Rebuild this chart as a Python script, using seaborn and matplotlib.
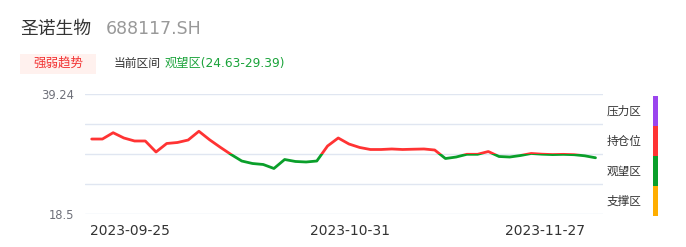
import matplotlib
matplotlib.use("Agg")
import matplotlib.pyplot as plt
from matplotlib.patches import Rectangle
import seaborn as sns
import pandas as pd

# ---------------- data ----------------
stock_name = "圣诺生物"
stock_code = "688117.SH"
badge_text = "强弱趋势"
range_prefix = "当前区间"
range_text = "观望区(24.63-29.39)"

day_index = list(range(48))
price = [31.51, 31.51, 32.60, 31.69, 31.17, 31.17, 29.27, 30.74, 30.91, 31.34,
         32.85, 31.38, 30.08, 28.84, 27.71, 27.28, 27.11, 26.42, 27.97, 27.63,
         27.54, 27.71, 30.30, 31.69, 30.65, 30.05, 29.70, 29.70, 29.79, 29.70,
         29.75, 29.79, 29.61, 28.14, 28.40, 28.87, 28.87, 29.35, 28.49, 28.40,
         28.66, 29.01, 28.89, 28.82, 28.86, 28.80, 28.61, 28.27]
split_value = 28.87

y_min, y_max = 18.5, 39.24
x_tick_labels = ["2023-09-25", "2023-10-31", "2023-11-27"]
x_tick_pos = [3.6, 24.1, 42.3]

zone_labels = ["压力区", "持仓位", "观望区", "支撑区"]
zone_colors = ["#9B45EE", "#FF3333", "#0A9F2A", "#FFAE00"]

# ---------------- style ----------------
sns.set_theme(style="white")
plt.rcParams["font.family"] = ["Noto Sans CJK SC", "DejaVu Sans"]

RED = "#FF3333"
GREEN = "#0A9F2A"

fig = plt.figure(figsize=(6.86, 2.47), dpi=100)
W, H = 686, 247

def fx(px):
    return px / W

def fy(py):
    return 1 - py / H

ax = fig.add_axes([fx(85), fy(214.3), fx(603) - fx(85), fy(94.3) - fy(214.3)])

df = pd.DataFrame({"day": day_index, "price": price})

for color, lo, hi in [(RED, split_value, y_max + 5), (GREEN, y_min - 5, split_value)]:
    n_before = len(ax.lines)
    sns.lineplot(data=df, x="day", y="price", ax=ax, color=color, linewidth=2.0,
                 solid_joinstyle="round", solid_capstyle="round", zorder=3)
    clip = Rectangle((-10, lo), 100, hi - lo, transform=ax.transData)
    for ln in ax.lines[n_before:]:
        ln.set_clip_path(clip)

ax.set_xlim(-0.625, 47.7)
ax.set_ylim(y_min, y_max)
grid_vals = [y_min + i * (y_max - y_min) / 4 for i in range(5)]
for g in grid_vals:
    ax.axhline(g, color="#E0E6F1", linewidth=1.0, zorder=1)
ax.set_yticks([y_min, y_max])
ax.set_yticklabels(["18.5", "39.24"], fontsize=8.3, color="#6E7079",
                   family=["DejaVu Sans"])
ax.set_xticks(x_tick_pos)
ax.set_xticklabels(x_tick_labels, fontsize=10, color="#333333", family=["DejaVu Sans"])
ax.tick_params(axis="x", length=0, pad=7)
ax.tick_params(axis="y", length=0, pad=8)
ax.set_xlabel("")
ax.set_ylabel("")
for s in ax.spines.values():
    s.set_visible(False)
ax.set_facecolor("none")

# ---------------- header ----------------
fig.text(fx(20), fy(29), stock_name, fontsize=12.8, color="#333333",
         va="center", ha="left")
fig.text(fx(106), fy(29), stock_code, fontsize=12.5, color="#999999",
         va="center", ha="left", family=["DejaVu Sans"])

badge = Rectangle((fx(20), fy(74)), fx(96) - fx(20), fy(54) - fy(74),
                  transform=fig.transFigure, facecolor="#FFF1EE", edgecolor="none")
fig.patches.append(badge)
fig.text(fx(58), fy(63.5), badge_text, fontsize=9, color="#F23333",
         va="center", ha="center")
fig.text(fx(114), fy(63), range_prefix, fontsize=8.5, color="#333333",
         va="center", ha="left")
fig.text(fx(165), fy(63), range_text, fontsize=8.8, color="#1AA33A",
         va="center", ha="left", family=["DejaVu Sans", "Noto Sans CJK SC"])

# ---------------- zone legend ----------------
seg_top = 96
seg_h = 30
for i, (lab, col) in enumerate(zip(zone_labels, zone_colors)):
    top = seg_top + i * seg_h
    r = Rectangle((fx(653), fy(top + seg_h)), fx(658) - fx(653), fy(top) - fy(top + seg_h),
                  transform=fig.transFigure, facecolor=col, edgecolor="none")
    fig.patches.append(r)
    fig.text(fx(607), fy(top + seg_h / 2), lab, fontsize=8.4, color="#333333",
             va="center", ha="left")

fig.savefig("out.png", dpi=100)
